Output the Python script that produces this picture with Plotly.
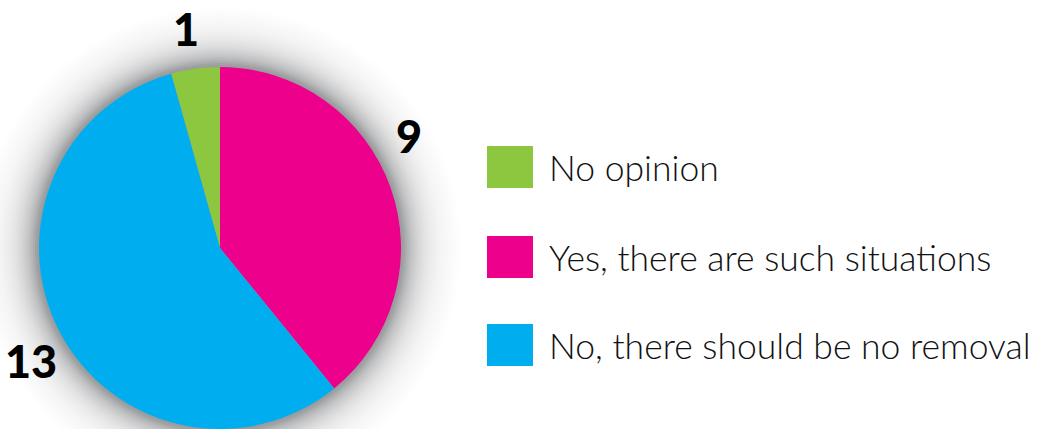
import math
import plotly.graph_objects as go

# Survey answers, in legend order
categories = ["No opinion", "Yes, there are such situations", "No, there should be no removal"]
counts = [1, 9, 13]
colors = ["#8dc63f", "#ec008c", "#00aeef"]

W, H = 1040, 429

# Pie geometry (pixels)
CX, CY, R = 220, 248, 181
dom_x = [(CX - R) / W, (CX + R) / W]
dom_y = [1 - (CY + R) / H, 1 - (CY - R) / H]

total = sum(counts)

fig = go.Figure(
    go.Pie(
        labels=categories,
        values=counts,
        marker=dict(colors=colors, line=dict(width=0)),
        sort=False,
        direction="clockwise",
        rotation=-360 * counts[0] / total,
        textinfo="none",
        hoverinfo="label+value",
        showlegend=False,
        domain=dict(x=dom_x, y=dom_y),
    )
)

# Soft radial shadow around the pie: stacked translucent rings whose
# combined darkness falls off exponentially away from the rim
def shade(d):
    return 0.37 * math.exp(-d / 20.0)

shapes = []
step = 2
ring_d = list(range(step, 76, step))
for d in ring_d:
    t_in = 1 - shade(d - step)
    t_out = 1 - shade(d)
    a = 1 - t_in / t_out
    rr = R + d
    shapes.append(
        dict(
            type="circle",
            xref="paper",
            yref="paper",
            x0=(CX - rr) / W,
            x1=(CX + rr) / W,
            y0=1 - (CY + rr) / H,
            y1=1 - (CY - rr) / H,
            fillcolor="rgb(20,24,28)",
            opacity=max(a, 0.001),
            line=dict(width=0),
            layer="below",
        )
    )

# Custom legend swatches
row_y = [167, 257, 345]
sw_x0, sw_size = 487, 45
for c, yc in zip(colors, row_y):
    shapes.append(
        dict(
            type="rect",
            xref="paper",
            yref="paper",
            x0=sw_x0 / W,
            x1=(sw_x0 + sw_size + 1) / W,
            y0=1 - (yc + 21) / H,
            y1=1 - (yc - 21) / H,
            fillcolor=c,
            line=dict(width=0),
            layer="above",
        )
    )

annotations = []
for name, yc in zip(categories, row_y):
    annotations.append(
        dict(
            text=name,
            xref="paper",
            yref="paper",
            x=547 / W,
            y=1 - yc / H,
            xanchor="left",
            yanchor="middle",
            showarrow=False,
            font=dict(family="Lato", size=35.5, color="#111111", weight=300),
        )
    )

# Value labels around the pie (the top one hangs from the upper edge)
label_pos = [(186, 0, "top"), (409, 136, "middle"), (31, 361, "middle")]
for v, (lx, ly, anchor) in zip(counts, label_pos):
    annotations.append(
        dict(
            text=str(v),
            xref="paper",
            yref="paper",
            x=lx / W,
            y=1 - ly / H,
            xanchor="center",
            yanchor=anchor,
            showarrow=False,
            font=dict(family="Lato", size=45, color="#000000", weight=900),
        )
    )

fig.update_layout(
    width=W,
    height=H,
    margin=dict(l=0, r=0, t=0, b=0),
    paper_bgcolor="white",
    plot_bgcolor="white",
    shapes=shapes,
    annotations=annotations,
)

fig.write_html("out.html")
